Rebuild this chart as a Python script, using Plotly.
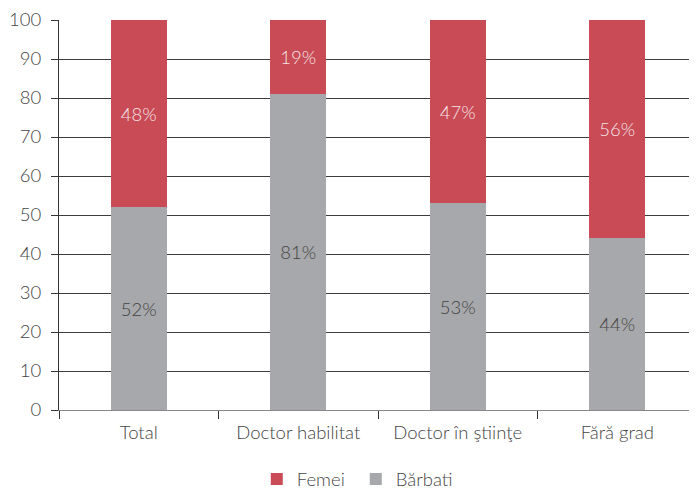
import plotly.graph_objects as go

categories = ["Total", "Doctor habilitat", "Doctor în ştiinţe", "Fără grad"]
barbati = [52, 81, 53, 44]
femei = [48, 19, 47, 56]
y_ticks = [0, 10, 20, 30, 40, 50, 60, 70, 80, 90, 100]

FONT = "Lato Light, Lato"
fig = go.Figure()
fig.add_trace(go.Bar(
    x=categories, y=barbati, name="Bărbati",
    marker=dict(color="#a7a8ab", line=dict(width=0)),
    text=[f"{v}%" for v in barbati], textposition="inside",
    insidetextanchor="middle",
    textfont=dict(family=FONT, size=18.5, color="#444444", weight=300),
))
fig.add_trace(go.Bar(
    x=categories, y=femei, name="Femei",
    marker=dict(color="#c84b56", line=dict(width=0)),
    text=[f"{v}%" for v in femei], textposition="inside",
    insidetextanchor="middle",
    textfont=dict(family=FONT, size=18.5, color="#f6e4e6", weight=300),
))

# page body has an 8px default margin, so the figure is sized/offset to compensate
fig.update_layout(
    barmode="stack", bargap=0.65,
    width=689, height=482,
    margin=dict(l=51, r=0, t=12, b=80, autoexpand=False),
    paper_bgcolor="white", plot_bgcolor="white",
    font=dict(family=FONT, size=18, color="#444444", weight=300),
    uniformtext=dict(mode="show", minsize=10),
    showlegend=True,
    legend=dict(orientation="h", x=0.31, xanchor="left", y=-0.178, yanchor="middle",
                traceorder="reversed", font=dict(family=FONT, size=18.5, color="#444444", weight=300),
                itemwidth=30, entrywidth=54),
    xaxis=dict(
        automargin=False,
        showgrid=False, showline=True, linecolor="#888888", linewidth=1,
        ticks="outside", tickson="boundaries", ticklen=8, tickcolor="#333333",
        ticklabelstandoff=6,
        tickfont=dict(family=FONT, size=18.5, color="#444444", weight=300),
    ),
    yaxis=dict(
        automargin=False,
        range=[0, 100], tickvals=y_ticks, showgrid=True, gridcolor="#3c3c3c", gridwidth=1,
        showline=True, linecolor="#333333", linewidth=1,
        ticks="outside", ticklen=7, tickcolor="#333333",
        ticklabelstandoff=6,
        tickfont=dict(family=FONT, size=18.5, color="#444444", weight=300),
        zeroline=False,
    ),
)
fig.write_html("out.html")
